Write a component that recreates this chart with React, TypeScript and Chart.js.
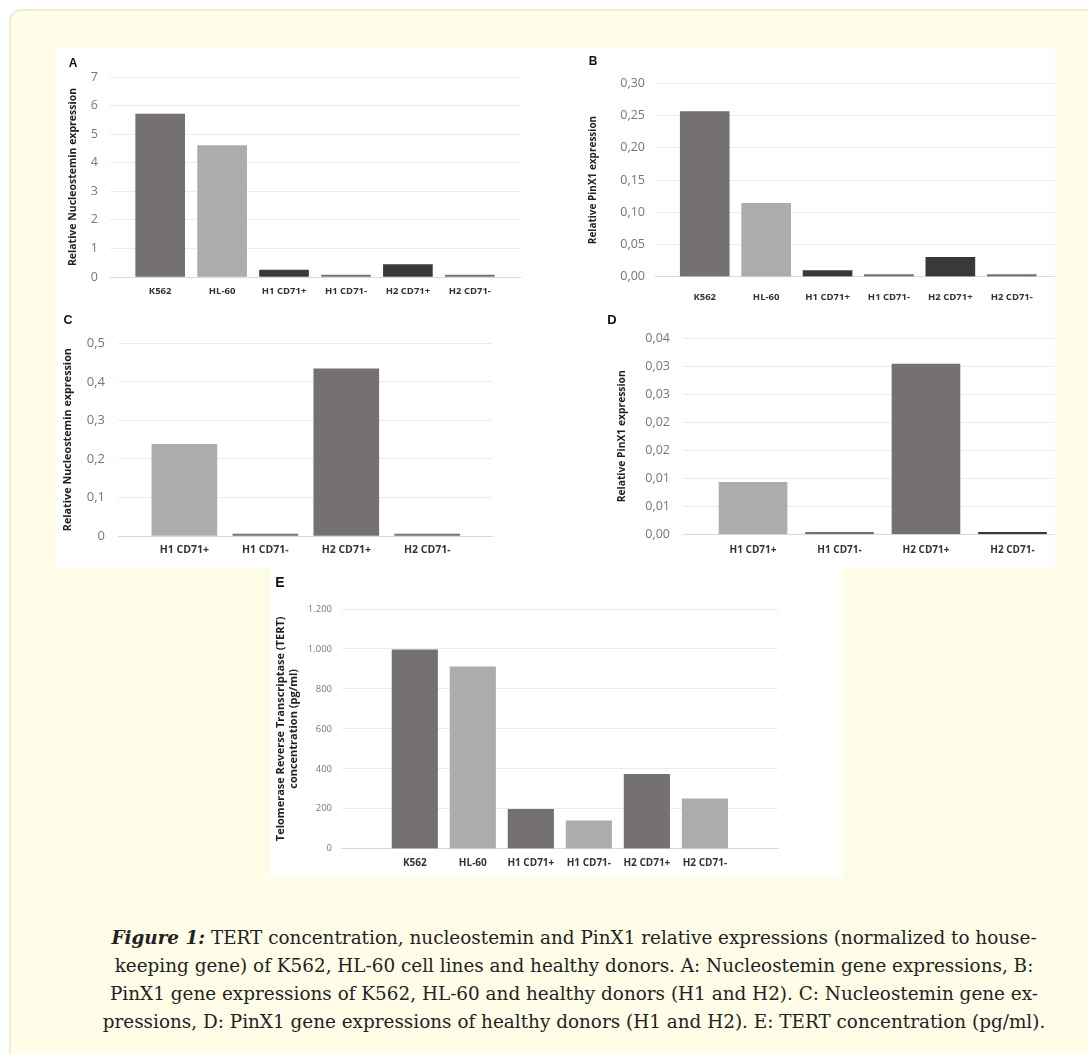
import React, { useEffect, useRef } from "react";
import { Chart, registerables } from "chart.js";

Chart.register(...registerables);

// ---------- data ----------
const CELLS_ALL = ["K562", "HL-60", "H1 CD71+", "H1 CD71-", "H2 CD71+", "H2 CD71-"];
const CELLS_DONORS = ["H1 CD71+", "H1 CD71-", "H2 CD71+", "H2 CD71-"];

const A_VALUES = [5.7, 4.6, 0.24, 0.004, 0.435, 0.004];
const B_VALUES = [0.256, 0.114, 0.0093, 0.0003, 0.03, 0.0003];
const C_VALUES = [0.238, 0.004, 0.434, 0.004];
const D_VALUES = [0.0093, 0.0002, 0.0304, 0.0003];
const E_VALUES = [995, 911, 197, 140, 372, 250];

const A_TICKS = [0, 1, 2, 3, 4, 5, 6, 7];
const A_TICK_LABELS = ["0", "1", "2", "3", "4", "5", "6", "7"];
const B_TICKS = [0, 0.05, 0.1, 0.15, 0.2, 0.25, 0.3];
const B_TICK_LABELS = ["0,00", "0,05", "0,10", "0,15", "0,20", "0,25", "0,30"];
const C_TICKS = [0, 0.1, 0.2, 0.3, 0.4, 0.5];
const C_TICK_LABELS = ["0", "0,1", "0,2", "0,3", "0,4", "0,5"];
const D_TICKS = [0, 0.005, 0.01, 0.015, 0.02, 0.025, 0.03, 0.035];
const D_TICK_LABELS = ["0,00", "0,01", "0,01", "0,02", "0,02", "0,03", "0,03", "0,04"];
const E_TICKS = [0, 200, 400, 600, 800, 1000, 1200];
const E_TICK_LABELS = ["0", "200", "400", "600", "800", "1.000", "1.200"];

const A_TITLE = "Relative Nucleostemin expression";
const B_TITLE = "Relative PinX1 expression";
const C_TITLE = "Relative Nucleostemin expression";
const D_TITLE = "Relative PinX1 expression";
const E_TITLE = ["Telomerase Reverse Transcriptase (TERT)", "concentration (pg/ml)"];

const CAPTION_LINES = [
  "TERT concentration, nucleostemin and PinX1 relative expressions (normalized to house-",
  "keeping gene) of K562, HL-60 cell lines and healthy donors. A: Nucleostemin gene expressions, B:",
  "PinX1 gene expressions of K562, HL-60 and healthy donors (H1 and H2). C: Nucleostemin gene ex-",
  "pressions, D: PinX1 gene expressions of healthy donors (H1 and H2). E: TERT concentration (pg/ml).",
];

// ---------- styles ----------
const DARK = "#767171";
const LIGHT = "#aeabab";
const DARKEST = "#3b3838";
const FONT = "'Open Sans', 'Noto Sans', sans-serif";

type Box = { left: number; top: number; width: number; height: number };
type Plot = { left: number; top: number; right: number; bottom: number };

type Spec = {
  labels: string[];
  values: number[];
  colors: string[];
  ticks: number[];
  tickLabels: string[];
  title: string | string[];
  box: Box;
  plot: Plot;
  xRange: [number, number];
  barThickness: number;
  minBar: number;
  tickFont: number;
  tickPad: number;
  labelFont: number;
  labelPad: number;
  titleFont: number;
  titleX: number;
};

function buildConfig(s: Spec): any {
  const titleLH = s.titleFont * 1.2;
  const axisLeft = s.box.left;
  const titlePadTop = s.titleX - axisLeft - titleLH / 2;
  return {
    type: "bar",
    data: {
      datasets: [
        {
          data: s.values.map((v, i) => ({ x: i, y: v })),
          backgroundColor: s.colors,
          borderWidth: 0,
          barThickness: s.barThickness,
          minBarLength: s.minBar,
        },
      ],
    },
    options: {
      animation: false,
      responsive: false,
      maintainAspectRatio: false,
      events: [],
      layout: {
        padding: {
          left: 0,
          top: s.plot.top - s.box.top,
          right: s.box.left + s.box.width - s.plot.right,
          bottom: 0,
        },
      },
      plugins: { legend: { display: false }, tooltip: { enabled: false }, title: { display: false } },
      scales: {
        x: {
          type: "linear",
          min: s.xRange[0],
          max: s.xRange[1],
          offset: false,
          grid: { display: false, drawTicks: false },
          border: { display: true, color: "#d9d9d9", width: 1 },
          afterBuildTicks: (sc: any) => {
            sc.ticks = s.labels.map((_, i) => ({ value: i }));
          },
          afterFit: (sc: any) => {
            sc.height = s.box.top + s.box.height - s.plot.bottom;
          },
          ticks: {
            autoSkip: false,
            maxRotation: 0,
            minRotation: 0,
            padding: s.labelPad,
            color: "#333333",
            font: { family: FONT, size: s.labelFont, weight: "bold" },
            callback: (v: any) => s.labels[v as number] ?? "",
          },
        },
        y: {
          type: "linear",
          min: 0,
          max: s.ticks[s.ticks.length - 1],
          grid: { color: "#ebebeb", lineWidth: 1, drawTicks: false },
          border: { display: false },
          afterBuildTicks: (sc: any) => {
            sc.ticks = s.ticks.map((v) => ({ value: v }));
          },
          afterFit: (sc: any) => {
            sc.width = s.plot.left - s.box.left;
          },
          ticks: {
            autoSkip: false,
            padding: s.plot.left - s.tickPad,
            color: "#6f7786",
            font: { family: FONT, size: s.tickFont },
            callback: (_v: any, i: number) => s.tickLabels[i],
          },
          title: {
            display: true,
            text: s.title,
            color: "#1f1f1f",
            font: { family: FONT, size: s.titleFont, weight: "bold", lineHeight: 1.2 },
            padding: { top: titlePadTop, bottom: 0 },
          },
        },
      },
    },
  };
}

function BarPanel({ spec }: { spec: Spec }) {
  const ref = useRef<HTMLCanvasElement | null>(null);
  useEffect(() => {
    if (!ref.current) return;
    const chart = new Chart(ref.current, buildConfig(spec));
    return () => chart.destroy();
  }, [spec]);
  return (
    <canvas
      ref={ref}
      width={spec.box.width}
      height={spec.box.height}
      style={{
        position: "absolute",
        left: spec.box.left,
        top: spec.box.top,
        width: spec.box.width,
        height: spec.box.height,
      }}
    />
  );
}

// ---------- specs (layout in page pixels) ----------
const SPEC_A: Spec = {
  labels: CELLS_ALL,
  values: A_VALUES,
  colors: [DARK, LIGHT, DARKEST, DARK, DARKEST, DARK],
  ticks: A_TICKS,
  tickLabels: A_TICK_LABELS,
  title: A_TITLE,
  box: { left: 56, top: 48, width: 480, height: 262 },
  plot: { left: 110, top: 77, right: 520, bottom: 277 },
  xRange: [-0.81, 5.81],
  barThickness: 49,
  minBar: 2,
  tickFont: 12.5,
  tickPad: 98,
  labelFont: 9.5,
  labelPad: 9,
  titleFont: 10.5,
  titleX: 73,
};

const SPEC_B: Spec = {
  labels: CELLS_ALL,
  values: B_VALUES,
  colors: [DARK, LIGHT, DARKEST, DARK, DARKEST, DARK],
  ticks: B_TICKS,
  tickLabels: B_TICK_LABELS,
  title: B_TITLE,
  box: { left: 560, top: 48, width: 520, height: 262 },
  plot: { left: 655, top: 83.3, right: 1061.5, bottom: 276.7 },
  xRange: [-0.81, 5.81],
  barThickness: 49,
  minBar: 2,
  tickFont: 12.5,
  tickPad: 645,
  labelFont: 9.5,
  labelPad: 15,
  titleFont: 10,
  titleX: 593,
};

const SPEC_C: Spec = {
  labels: CELLS_DONORS,
  values: C_VALUES,
  colors: [LIGHT, DARK, DARK, DARK],
  ticks: C_TICKS,
  tickLabels: C_TICK_LABELS,
  title: C_TITLE,
  box: { left: 56, top: 310, width: 460, height: 258 },
  plot: { left: 118, top: 343.3, right: 492, bottom: 536 },
  xRange: [-0.82, 3.8],
  barThickness: 65,
  minBar: 2,
  tickFont: 13,
  tickPad: 105,
  labelFont: 10.5,
  labelPad: 7.4,
  titleFont: 10.8,
  titleX: 68.3,
};

const SPEC_D: Spec = {
  labels: CELLS_DONORS,
  values: D_VALUES,
  colors: [LIGHT, DARK, DARK, DARKEST],
  ticks: D_TICKS,
  tickLabels: D_TICK_LABELS,
  title: D_TITLE,
  box: { left: 560, top: 310, width: 540, height: 258 },
  plot: { left: 683, top: 338.3, right: 1082.5, bottom: 534.3 },
  xRange: [-0.81, 3.81],
  barThickness: 68,
  minBar: 2,
  tickFont: 12.5,
  tickPad: 670,
  labelFont: 10,
  labelPad: 9.4,
  titleFont: 10.3,
  titleX: 622,
};

const SPEC_E: Spec = {
  labels: CELLS_ALL,
  values: E_VALUES,
  colors: [DARK, LIGHT, DARK, LIGHT, DARK, LIGHT],
  ticks: E_TICKS,
  tickLabels: E_TICK_LABELS,
  title: E_TITLE,
  box: { left: 270, top: 568, width: 572, height: 310 },
  plot: { left: 341.7, top: 609, right: 778, bottom: 848.7 },
  xRange: [-1.26, 6.26],
  barThickness: 45.5,
  minBar: 0,
  tickFont: 9.5,
  tickPad: 332,
  labelFont: 10,
  labelPad: 8.3,
  titleFont: 11,
  titleX: 281,
};

const PANEL_LETTERS = [
  { t: "A", x: 73, y: 63, s: 12 },
  { t: "B", x: 593, y: 61, s: 12 },
  { t: "C", x: 68, y: 320, s: 12.5 },
  { t: "D", x: 612, y: 320, s: 13 },
  { t: "E", x: 280, y: 582, s: 14 },
];

export default function App() {
  useEffect(() => {
    document.body.style.overflow = "hidden";
  }, []);
  return (
    <div
      style={{
        position: "fixed",
        left: 0,
        top: 0,
        width: 1088,
        height: 1054,
        overflow: "hidden",
        background: "#ffffff",
      }}
    >
      {/* card */}
      <div
        style={{
          position: "absolute",
          left: 9,
          top: 9,
          width: 1110,
          height: 1100,
          borderRadius: 12,
          border: "2px solid #f1ecd8",
          background: "#fffde8",
          boxSizing: "border-box",
        }}
      />
      {/* white image areas */}
      <div
        style={{
          position: "absolute",
          left: 56,
          top: 48,
          width: 999,
          height: 520,
          background: "#ffffff",
          overflow: "hidden",
        }}
      >
        <div style={{ position: "absolute", left: -56, top: -48, width: 1200, height: 700 }}>
          <BarPanel spec={SPEC_A} />
          <BarPanel spec={SPEC_B} />
          <BarPanel spec={SPEC_C} />
          <BarPanel spec={SPEC_D} />
        </div>
      </div>
      <div
        style={{
          position: "absolute",
          left: 270,
          top: 568,
          width: 572,
          height: 310,
          background: "#ffffff",
          overflow: "hidden",
        }}
      >
        <div style={{ position: "absolute", left: -270, top: -568, width: 1200, height: 1000 }}>
          <BarPanel spec={SPEC_E} />
        </div>
      </div>
      {PANEL_LETTERS.map((p) => (
        <div
          key={p.t}
          style={{
            position: "absolute",
            left: p.x - 10,
            top: p.y - 10,
            width: 20,
            height: 20,
            lineHeight: "20px",
            textAlign: "center",
            fontFamily: "'Liberation Sans', Arial, sans-serif",
            fontWeight: "bold",
            fontSize: p.s,
            color: "#111",
          }}
        >
          {p.t}
        </div>
      ))}
      {/* caption */}
      <div
        style={{
          position: "absolute",
          left: 60,
          width: 1028,
          top: 924,
          textAlign: "center",
          fontFamily: "'DejaVu Serif', serif",
          fontSize: 18.4,
          lineHeight: "28px",
          color: "#222",
          whiteSpace: "nowrap",
        }}
      >
        {CAPTION_LINES.map((line, i) => (
          <div key={i}>
            {i === 0 ? (
              <>
                <b>
                  <i>Figure 1:</i>
                </b>{" "}
              </>
            ) : null}
            {line}
          </div>
        ))}
      </div>
    </div>
  );
}
